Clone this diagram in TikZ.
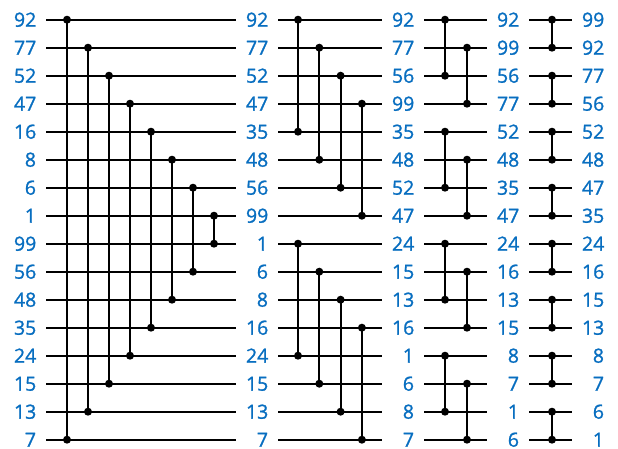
\documentclass[tikz,border=0pt]{standalone}
\usepackage{fontspec}
\setmainfont{Open Sans}
\newfontfamily\valfont{Open Sans}[FakeBold=1.2]
\usetikzlibrary{positioning, calc}
\definecolor{valBlue}  {RGB}{  8,110,192}
\definecolor{wireBlack}{RGB}{  0,  0,  0}
\tikzset{
  %% value label on a wire
  val/.style={
    font=\valfont\fontsize{19.5}{22}\selectfont, text=valBlue,
    text width=22pt, align=right,
    text height=14pt, text depth=0pt,
    inner xsep=10pt, inner ysep=0pt
  },
  %% horizontal wire
  wire/.style={
    line width=2.2pt, color=wireBlack
  },
  %% comparator end point
  cdot/.style={
    circle, fill=wireBlack, inner sep=0pt, minimum size=8pt
  },
  %% comparator link
  cmp/.style={
    line width=2.2pt, color=wireBlack
  }
}

\begin{document}
\begin{tikzpicture}[x=1pt, y=-1pt]

\useasboundingbox (0,0) rectangle (618,449);

%% ═══════════════════════════════════════════════════════════
%%  VALUE COLUMNS  (input, after each of the four stages)
%% ═══════════════════════════════════════════════════════════

\foreach \v [count=\r from 0] in {92,77,52,47,16,8,6,1,99,56,48,35,24,15,13,7}
  \node[val] (c1-\r) at (25, {19.7+28*\r}) {\v};

\foreach \v [count=\r from 0] in {92,77,52,47,35,48,56,99,1,6,8,16,24,15,13,7}
  \node[val] (c2-\r) at (257, {19.7+28*\r}) {\v};

\foreach \v [count=\r from 0] in {92,77,56,99,35,48,52,47,24,15,13,16,1,6,8,7}
  \node[val] (c3-\r) at (403, {19.7+28*\r}) {\v};

\foreach \v [count=\r from 0] in {92,99,56,77,52,48,35,47,24,16,13,15,8,7,1,6}
  \node[val] (c4-\r) at (508, {19.7+28*\r}) {\v};

\foreach \v [count=\r from 0] in {99,92,77,56,52,48,47,35,24,16,15,13,8,7,6,1}
  \node[val] (c5-\r) at (593, {19.7+28*\r}) {\v};

%% ═══════════════════════════════════════════════════════════
%%  WIRES
%% ═══════════════════════════════════════════════════════════

\foreach \r in {0,...,15} {
  \draw[wire] (c1-\r) -- (c2-\r);
  \draw[wire] (c2-\r) -- (c3-\r);
  \draw[wire] (c3-\r) -- (c4-\r);
  \draw[wire] (c4-\r) -- (c5-\r);
}

%% ═══════════════════════════════════════════════════════════
%%  STAGE 1  (row i against row 15-i)
%% ═══════════════════════════════════════════════════════════

\foreach \k in {0,...,7} {
  \pgfmathtruncatemacro{\b}{15-\k}
  \node[cdot] (s1t\k) at ({67+21*\k}, {19.7+28*\k}) {};
  \node[cdot] (s1b\k) at ({67+21*\k}, {19.7+28*\b}) {};
  \draw[cmp] (s1t\k.center) -- (s1b\k.center);
}

%% ═══════════════════════════════════════════════════════════
%%  STAGE 2  (half-cleaners on blocks of 8)
%% ═══════════════════════════════════════════════════════════

\foreach \g in {0,8}
  \foreach \k in {0,...,3} {
    \pgfmathtruncatemacro{\t}{\g+\k}
    \pgfmathtruncatemacro{\b}{\g+\k+4}
    \node[cdot] (s2t\t) at ({298+21.3*\k}, {19.7+28*\t}) {};
    \node[cdot] (s2b\t) at ({298+21.3*\k}, {19.7+28*\b}) {};
    \draw[cmp] (s2t\t.center) -- (s2b\t.center);
  }

%% ═══════════════════════════════════════════════════════════
%%  STAGE 3  (blocks of 4)
%% ═══════════════════════════════════════════════════════════

\foreach \g in {0,4,8,12}
  \foreach \k in {0,1} {
    \pgfmathtruncatemacro{\t}{\g+\k}
    \pgfmathtruncatemacro{\b}{\g+\k+2}
    \node[cdot] (s3t\t) at ({445+22*\k}, {19.7+28*\t}) {};
    \node[cdot] (s3b\t) at ({445+22*\k}, {19.7+28*\b}) {};
    \draw[cmp] (s3t\t.center) -- (s3b\t.center);
  }

%% ═══════════════════════════════════════════════════════════
%%  STAGE 4  (neighbouring pairs)
%% ═══════════════════════════════════════════════════════════

\foreach \t in {0,2,...,14} {
  \pgfmathtruncatemacro{\b}{\t+1}
  \node[cdot] (s4t\t) at (552, {19.7+28*\t}) {};
  \node[cdot] (s4b\t) at (552, {19.7+28*\b}) {};
  \draw[cmp] (s4t\t.center) -- (s4b\t.center);
}

\end{tikzpicture}
\end{document}
